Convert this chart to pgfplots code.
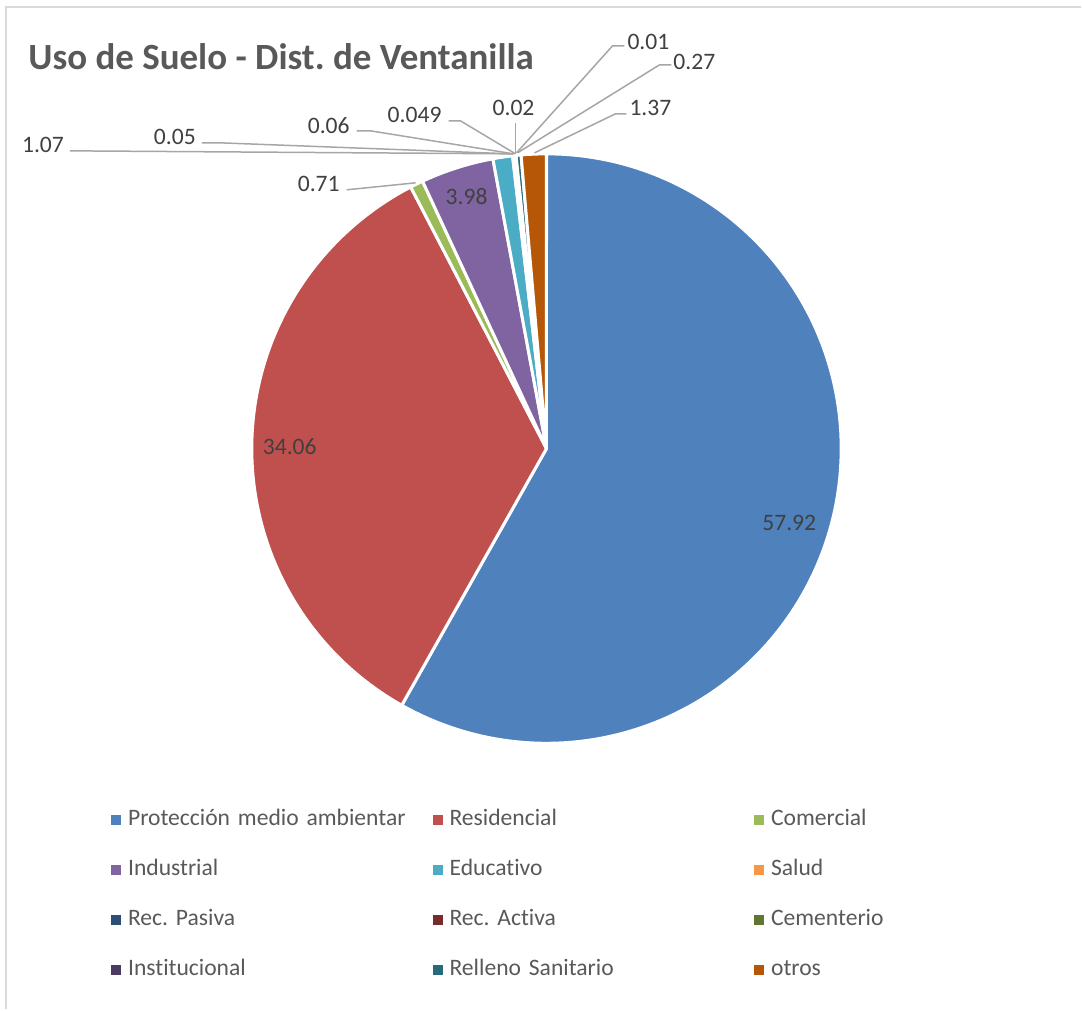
\documentclass[border=0pt]{standalone}
\usepackage{fontspec}
\setmainfont{Carlito}[Ligatures=NoCommon]
\usepackage{pgfplots}
\usepackage{pgfplotstable}
\pgfplotsset{compat=1.18}
\definecolor{c0}{HTML}{4F81BD}
\definecolor{c1}{HTML}{C0504D}
\definecolor{c2}{HTML}{9BBB59}
\definecolor{c3}{HTML}{8064A2}
\definecolor{c4}{HTML}{4BACC6}
\definecolor{c5}{HTML}{F79646}
\definecolor{c6}{HTML}{2C4D75}
\definecolor{c7}{HTML}{772C2A}
\definecolor{c8}{HTML}{5F7530}
\definecolor{c9}{HTML}{4D3B62}
\definecolor{c10}{HTML}{276A7C}
\definecolor{c11}{HTML}{B65708}
\definecolor{lbl}{HTML}{404040}
\definecolor{legc}{HTML}{595959}
\definecolor{ttl}{HTML}{595959}
\definecolor{lead}{HTML}{A6A6A6}
\definecolor{frm}{HTML}{D9D9D9}

\pgfplotstableread{
idx value
0 57.92
1 34.06
2 0.71
3 3.98
4 1.07
5 0.05
6 0.06
7 0.049
8 0.02
9 0.01
10 0.27
11 1.37
}\piedata

\begin{document}
\frenchspacing
\begin{tikzpicture}
\xdef\cum{0}%
\foreach \i in {0,...,11}{%
  \pgfplotstablegetelem{\i}{value}\of\piedata
  \pgfmathsetmacro\newcum{\cum+\pgfplotsretval}%
  \expandafter\xdef\csname pieS\i\endcsname{\cum}%
  \expandafter\xdef\csname pieE\i\endcsname{\newcum}%
  \xdef\cum{\newcum}%
}%
\xdef\pietotal{\cum}%
\foreach \i in {0,...,11}{%
  \edef\sv{\csname pieS\i\endcsname}%
  \edef\ev{\csname pieE\i\endcsname}%
  \pgfmathsetmacro\tA{90-(\ev/\pietotal)*360}%
  \pgfmathsetmacro\tB{90-(\sv/\pietotal)*360}%
  \pgfmathtruncatemacro\ns{max(3,(\tB-\tA)/1.5+2)}%
  \expandafter\xdef\csname pieA\i\endcsname{\tA}%
  \expandafter\xdef\csname pieB\i\endcsname{\tB}%
  \expandafter\xdef\csname pieN\i\endcsname{\ns}%
}%
\begin{axis}[
  scale only axis, width=541pt, height=505pt,
  xmin=0, xmax=1082, ymin=0, ymax=1010,
  hide axis, clip=false,
  legend columns=3,
  legend cell align=left,
  legend image code/.code={\fill[#1] (0pt,-2.25pt) rectangle (4.5pt,2.25pt);},
  legend style={at={(axis cs:111,201)}, anchor=north west, draw=none, fill=none,
    inner sep=0pt, row sep=14pt,
    font=\fontsize{11.8}{14}\selectfont, text=legc,
    nodes={inner xsep=3.5pt, inner ysep=0pt, text height=8.5pt, text depth=2.5pt, text width=149pt, align=left}},
]
\path (axis cs:0,0) rectangle (axis cs:1082,1010);
\addplot[frm, line width=1pt, forget plot] coordinates {(6,0) (6,1003) (1082,1003)};
\pgfplotsinvokeforeach{0,...,11}{%
  \edef\dA{\csname pieA#1\endcsname}%
  \edef\dB{\csname pieB#1\endcsname}%
  \edef\dN{\csname pieN#1\endcsname}%
  \addplot[fill=c#1, draw=white, line width=1.5pt, line join=round, domain=\dA:\dB, samples=\dN, variable=\t, forget plot]
    ({547+295*cos(\t)},{561+295*sin(\t)}) -- (axis cs:547,561) -- cycle;
}
% leader lines
\addplot[lead, line width=0.75pt, forget plot] coordinates {(347,820) (416,827)};
\addplot[lead, line width=0.75pt, forget plot] coordinates {(70,859) (514,856)};
\addplot[lead, line width=0.75pt, forget plot] coordinates {(202,867) (221,867) (511,856)};
\addplot[lead, line width=0.75pt, forget plot] coordinates {(357,879) (371,879) (514,856)};
\addplot[lead, line width=0.75pt, forget plot] coordinates {(449,889) (461,889) (516,856)};
\addplot[lead, line width=0.75pt, forget plot] coordinates {(516,887) (516,856)};
\addplot[lead, line width=0.75pt, forget plot] coordinates {(625,964) (613,964) (517,857)};
\addplot[lead, line width=0.75pt, forget plot] coordinates {(672,945) (660,945) (518,857)};
\addplot[lead, line width=0.75pt, forget plot] coordinates {(627,896) (616,896) (535,857)};
% labels
\begin{scope}[every node/.style={inner sep=0pt, text=lbl, font=\fontsize{11.8}{14}\selectfont}]
\node at (axis cs:790,487) {57.92};
\node at (axis cs:290,563) {34.06};
\node at (axis cs:467,813) {3.98};
\node at (axis cs:319,826) {0.71};
\node at (axis cs:43,865) {1.07};
\node at (axis cs:175,873) {0.05};
\node at (axis cs:329,884) {0.06};
\node at (axis cs:415,895) {0.049};
\node at (axis cs:514,902) {0.02};
\node at (axis cs:649,968) {0.01};
\node at (axis cs:695,948) {0.27};
\node at (axis cs:651,902) {1.37};
\end{scope}
\node[anchor=west, inner sep=0pt, text=ttl, font=\bfseries\fontsize{18.5}{22}\selectfont] at (axis cs:28,953) {Uso de Suelo - Dist. de Ventanilla};
% legend
\addlegendimage{c0}\addlegendentry{Protección medio ambientar}
\addlegendimage{c1}\addlegendentry{Residencial}
\addlegendimage{c2}\addlegendentry{Comercial}
\addlegendimage{c3}\addlegendentry{Industrial}
\addlegendimage{c4}\addlegendentry{Educativo}
\addlegendimage{c5}\addlegendentry{Salud}
\addlegendimage{c6}\addlegendentry{Rec. Pasiva}
\addlegendimage{c7}\addlegendentry{Rec. Activa}
\addlegendimage{c8}\addlegendentry{Cementerio}
\addlegendimage{c9}\addlegendentry{Institucional}
\addlegendimage{c10}\addlegendentry{Relleno Sanitario}
\addlegendimage{c11}\addlegendentry{otros}
\end{axis}
\end{tikzpicture}
\end{document}
